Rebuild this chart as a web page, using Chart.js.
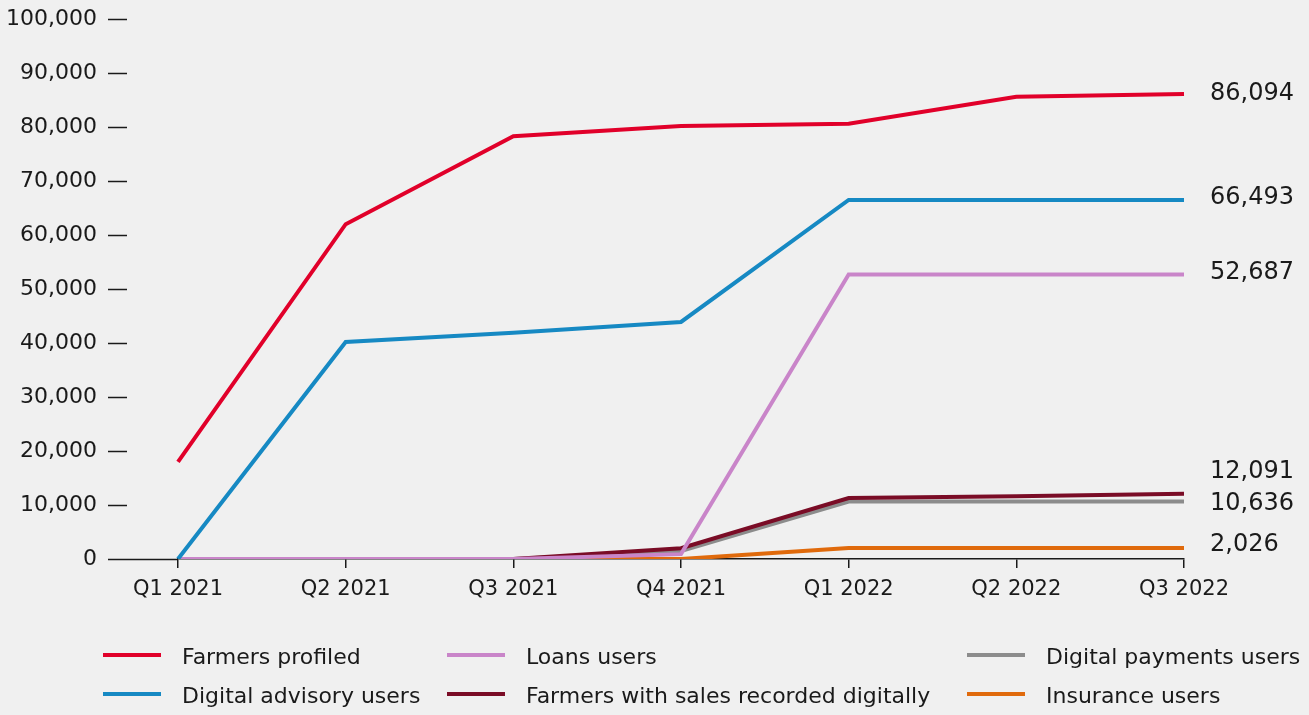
<!DOCTYPE html>
<html>
<head>
<meta charset="utf-8">
<title>Farmer digital services users</title>
<script src="https://cdn.jsdelivr.net/npm/chart.js@4.4.0/dist/chart.umd.min.js"></script>
<style>
  html, body { margin: 0; padding: 0; background: #f0f0f0; }
  #wrap { width: 1309px; height: 715px; }
</style>
</head>
<body>
<div id="wrap"><canvas id="usersChart" width="1309" height="715"></canvas></div>
<script>
const quarters = ["Q1 2021", "Q2 2021", "Q3 2021", "Q4 2021", "Q1 2022", "Q2 2022", "Q3 2022"];

const farmersProfiled = [18000, 62000, 78300, 80200, 80600, 85600, 86094];
const digitalAdvisory = [0, 40200, 41900, 43900, 66493, 66493, 66493];
const loansUsers      = [0, 0, 0, 900, 52687, 52687, 52687];
const salesRecorded   = [0, 0, 0, 2000, 11300, 11600, 12091];
const digitalPayments = [0, 0, 0, 1500, 10636, 10636, 10636];
const insuranceUsers  = [0, 0, 0, 0, 2026, 2026, 2026];

const yTicks = [0, 10000, 20000, 30000, 40000, 50000, 60000, 70000, 80000, 90000, 100000];

const FONT = "'DejaVu Sans', sans-serif";
const INK = "#1a1a1a";

const series = [
  { label: "Farmers profiled", data: farmersProfiled, color: "#e1002a" },
  { label: "Digital advisory users", data: digitalAdvisory, color: "#1689c3" },
  { label: "Loans users", data: loansUsers, color: "#c985c9" },
  { label: "Farmers with sales recorded digitally", data: salesRecorded, color: "#7a0c26" },
  { label: "Digital payments users", data: digitalPayments, color: "#8c8c8c" },
  { label: "Insurance users", data: insuranceUsers, color: "#e06a0c" }
];

// legend grid: [column, row] for each series
const legendSlots = [[0, 0], [0, 1], [1, 0], [1, 1], [2, 0], [2, 1]];
const legendCols = [103, 447, 967];
const legendRows = [657, 696];

// end-of-line value labels, nudged apart where lines bunch up
const endNudge = [0, -2, -2, -22, 2, -3];

const fmt = v => v.toLocaleString("en-US");

const decor = {
  id: "decor",
  afterDraw(chart) {
    const ctx = chart.ctx;
    const y = chart.scales.y;
    const x = chart.scales.x;
    const area = chart.chartArea;
    ctx.save();

    // short dashes beside the y labels
    ctx.strokeStyle = INK;
    ctx.lineWidth = 1.5;
    yTicks.forEach(v => {
      const py = Math.round(y.getPixelForValue(v)) + 0.5;
      ctx.beginPath();
      ctx.moveTo(108, py);
      ctx.lineTo(v === 0 ? area.left : 127, py);
      ctx.stroke();
    });

    // value labels at the end of each line
    ctx.fillStyle = INK;
    ctx.font = "24px " + FONT;
    ctx.textBaseline = "middle";
    ctx.textAlign = "left";
    const lastX = x.getPixelForValue(quarters.length - 1);
    series.forEach((s, i) => {
      const v = s.data[s.data.length - 1];
      ctx.fillText(fmt(v), lastX + 26, y.getPixelForValue(v) + endNudge[i]);
    });

    // legend
    ctx.font = "22px " + FONT;
    series.forEach((s, i) => {
      const [c, r] = legendSlots[i];
      const lx = legendCols[c];
      const ly = legendRows[r];
      ctx.strokeStyle = s.color;
      ctx.lineWidth = 4;
      ctx.beginPath();
      ctx.moveTo(lx, ly - 2);
      ctx.lineTo(lx + 58, ly - 2);
      ctx.stroke();
      ctx.fillText(s.label, lx + 79, ly + 1);
    });
    ctx.restore();
  }
};

new Chart(document.getElementById("usersChart"), {
  type: "line",
  data: {
    labels: quarters,
    datasets: series.map((s, i) => ({
      label: s.label,
      data: s.data,
      borderColor: s.color,
      backgroundColor: s.color,
      borderWidth: 4,
      pointRadius: 0,
      tension: 0,
      fill: false,
      order: i
    }))
  },
  options: {
    responsive: false,
    animation: false,
    layout: { padding: { top: 19, right: 125, left: 0, bottom: 0 } },
    plugins: { legend: { display: false }, tooltip: { enabled: false } },
    scales: {
      x: {
        offset: false,
        afterFit: s => { s.height = 156; },
        border: { display: true, color: INK, width: 1.5 },
        grid: { display: true, drawOnChartArea: false, drawTicks: true, tickLength: 9, color: INK, lineWidth: 1.5 },
        ticks: { color: INK, font: { family: FONT, size: 21 }, padding: 9, maxRotation: 0 }
      },
      y: {
        min: 0,
        max: 100000,
        afterFit: s => { s.width = 178; s.paddingTop = 12; s.paddingBottom = 12; },
        afterBuildTicks: s => { s.ticks = yTicks.map(v => ({ value: v })); },
        border: { display: false },
        grid: { display: false, drawTicks: false },
        ticks: { color: INK, font: { family: FONT, size: 22 }, padding: 81, callback: v => fmt(v) }
      }
    }
  },
  plugins: [decor]
});
</script>
</body>
</html>
